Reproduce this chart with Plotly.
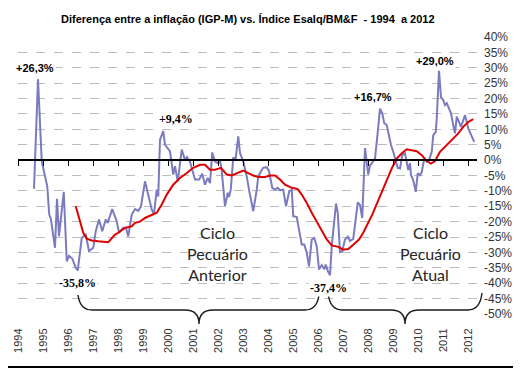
import plotly.graph_objects as go

# ---------------- data ----------------
blue_x = [1994.63, 1994.79, 1994.94, 1995.00, 1995.16, 1995.24, 1995.31, 1995.47, 1995.55, 1995.63,
          1995.82, 1995.94, 1996.03, 1996.16, 1996.30, 1996.38, 1996.54, 1996.70, 1996.83, 1997.00,
          1997.10, 1997.23, 1997.36, 1997.50, 1997.58, 1997.76, 1997.94, 1998.03, 1998.20, 1998.31,
          1998.40, 1998.54, 1998.67, 1998.80, 1998.91, 1999.07, 1999.20, 1999.34, 1999.43, 1999.54,
          1999.60, 1999.67, 1999.80, 1999.87, 2000.07, 2000.20, 2000.27, 2000.38, 2000.54, 2000.67,
          2000.75, 2000.87, 2000.96, 2001.07, 2001.24, 2001.36, 2001.47, 2001.58, 2001.67, 2001.76,
          2001.87, 2001.98, 2002.07, 2002.14, 2002.27, 2002.38, 2002.43, 2002.50, 2002.60, 2002.70,
          2002.80, 2002.87, 2003.00, 2003.14, 2003.23, 2003.40, 2003.54, 2003.60, 2003.71, 2003.80,
          2003.94, 2004.03, 2004.16, 2004.27, 2004.38, 2004.47, 2004.60, 2004.71, 2004.84, 2004.94,
          2005.00, 2005.14, 2005.23, 2005.34, 2005.44, 2005.54, 2005.63, 2005.74, 2005.84, 2005.94,
          2006.03, 2006.14, 2006.24, 2006.30, 2006.38, 2006.47, 2006.54, 2006.64, 2006.71, 2006.78,
          2006.87, 2006.96, 2007.07, 2007.18, 2007.27, 2007.40, 2007.47, 2007.58, 2007.67, 2007.76,
          2007.87, 2007.94, 2008.00, 2008.07, 2008.20, 2008.27, 2008.38, 2008.47, 2008.56, 2008.64,
          2008.74, 2008.83, 2008.91, 2009.00, 2009.10, 2009.18, 2009.27, 2009.36, 2009.47, 2009.54,
          2009.60, 2009.67, 2009.71, 2009.80, 2009.90, 2009.98, 2010.07, 2010.14, 2010.24, 2010.34,
          2010.43, 2010.54, 2010.60, 2010.70, 2010.74, 2010.83, 2010.91, 2011.00, 2011.07, 2011.14,
          2011.20, 2011.31, 2011.40, 2011.47, 2011.54, 2011.63, 2011.71, 2011.78, 2011.87, 2011.94,
          2012.00, 2012.11, 2012.24]
blue_y = [-9.3, 26.3, -0.4, -2.5, -8.5, -17.7, -19.3, -28.5, -12.6, -24.7,
          -10.3, -32.9, -31.1, -32.0, -35.0, -35.8, -25.3, -24.2, -29.6, -28.5,
          -23.1, -19.3, -23.1, -19.3, -20.4, -15.9, -19.9, -23.6, -22.0, -22.0,
          -24.8, -17.7, -15.9, -16.5, -15.0, -6.9, -11.8, -16.1, -17.5, -9.6,
          -11.8, 6.6, 9.4, 5.0, 2.8, -4.7, -2.0, -6.9, 3.4, 0.0,
          1.0, -0.5, -3.1, -6.3, -6.3, -4.4, -8.0, -5.8, -7.5, 2.5,
          -0.5, -1.0, 0.0, -3.6, -15.0, -10.6, -12.0, -9.6, 0.7, 0.7,
          7.7, 2.3, -0.4, -5.3, -9.6, -16.6, -9.6, -5.3, -3.6, -2.5,
          -2.3, -3.6, -9.0, -9.6, -9.0, -9.8, -9.6, -15.0, -10.1, -9.6,
          -18.2, -18.5, -22.6, -27.4, -27.4, -30.1, -34.5, -25.8, -25.3, -28.0,
          -35.5, -34.1, -35.5, -33.9, -36.0, -37.4, -28.0, -20.9, -14.1, -17.1,
          -29.9, -29.6, -25.8, -24.9, -26.3, -25.6, -20.4, -13.7, -14.6, -18.8,
          3.9, -2.0, -4.7, -1.8, -0.4, 0.5, 9.2, 16.7, 15.2, 12.0,
          11.4, 7.6, 4.9, 2.7, 0.0, -2.5, -2.7, 1.6, 2.2, -0.7,
          -3.2, -1.0, -4.9, -6.5, -10.3, -4.3, -4.9, -3.9, 0.5, -0.5,
          0.0, 2.7, 8.1, 9.2, 13.5, 29.0, 20.5, 19.5, 17.9, 18.5,
          17.3, 15.2, 11.4, 8.7, 14.1, 12.0, 10.8, 12.5, 14.6, 12.5,
          10.3, 8.3, 5.9]

red_x = [1996.30, 1996.47, 1996.60, 1996.74, 1996.94, 1997.20, 1997.47, 1997.60, 1997.87, 1998.00,
         1998.27, 1998.54, 1998.67, 1998.87, 1999.07, 1999.34, 1999.54, 1999.74, 1999.94, 2000.20,
         2000.47, 2000.74, 2001.00, 2001.27, 2001.47, 2001.67, 2001.87, 2002.11, 2002.34, 2002.54,
         2002.74, 2003.00, 2003.20, 2003.40, 2003.60, 2003.87, 2004.07, 2004.27, 2004.47, 2004.67,
         2004.94, 2005.18, 2005.34, 2005.54, 2005.74, 2005.94, 2006.14, 2006.34, 2006.54, 2006.80,
         2007.00, 2007.20, 2007.40, 2007.63, 2007.80, 2008.00, 2008.16, 2008.38, 2008.54, 2008.74,
         2008.94, 2009.14, 2009.34, 2009.54, 2009.74, 2009.94, 2010.14, 2010.34, 2010.51, 2010.67,
         2010.87, 2011.14, 2011.40, 2011.60, 2011.80, 2012.00, 2012.20]
red_y = [-15.0, -19.9, -23.6, -25.5, -26.1, -26.4, -26.7, -26.7, -24.2, -23.6,
         -22.0, -21.5, -20.4, -20.0, -18.8, -17.7, -17.1, -14.4, -11.2, -8.0,
         -5.8, -4.2, -2.5, -1.5, -1.5, -3.1, -3.1, -2.5, -4.7, -5.0,
         -4.2, -3.4, -4.2, -5.0, -5.5, -5.5, -5.0, -5.0, -6.3, -8.0,
         -9.0, -9.4, -11.2, -13.9, -17.1, -19.9, -23.1, -25.8, -27.7, -28.2,
         -29.1, -28.9, -27.5, -25.8, -23.6, -20.4, -17.7, -13.5, -10.3, -6.5,
         -2.7, 0.5, 2.2, 3.5, 3.2, 2.9, 1.6, -0.3, -1.1, -0.3,
         2.7, 4.9, 7.1, 8.7, 10.8, 12.4, 13.3]

year_ticks = list(range(1994, 2013))
year_labels = [str(y) for y in year_ticks]
pct_ticks = list(range(-50, 45, 5))
pct_labels = [f"{v}%" for v in pct_ticks]

# peak/trough labels
peak_x = [1994.67, 2000.31, 2008.19, 2010.67, 1996.35, 2006.39]
peak_y = [30.0, 13.3, 20.5, 32.1, -39.9, -41.6]
peak_text = ["+26,3%", "+9,4%", "+16,7%", "+29,0%", "-35,8%", "-37,4%"]

cycle_x = [2001.97, 2010.47]
cycle_y = [-30.5, -30.5]
cycle_text = ["Ciclo<br>Pecuário<br>Anterior", "Ciclo<br>Pecuário<br>Atual"]

title_text = "Diferença entre a inflação (IGP-M) vs. Índice Esalq/BM&F  - 1994  a 2012"

# ---------------- figure ----------------
# the page body has an 8px margin, so the figure is 8px smaller than the window
OFF = 8
WIN_W, WIN_H = 521, 368
W, H = WIN_W - OFF, WIN_H - OFF
PL, PR, PT, PB = 18, 477, 37, 314      # plot area in window pixels
L, R, T, B = PL - OFF, WIN_W - PR, PT - OFF, WIN_H - PB
XR = [1993.99, 2012.35]

fig = go.Figure()
fig.add_trace(go.Scatter(x=blue_x, y=blue_y, mode="lines",
                         line=dict(color="#7b7bbf", width=2), xaxis="x", yaxis="y",
                         showlegend=False, hoverinfo="skip"))
fig.add_trace(go.Scatter(x=red_x, y=red_y, mode="lines",
                         line=dict(color="#e00000", width=2), xaxis="x2", yaxis="y",
                         showlegend=False, hoverinfo="skip"))

pw = PR - PL
ph = PB - PT


def px(X):
    return (X - PL) / pw


def py(Y):
    return (PB - Y) / ph


def brace(x0, xm, x1, ytop, ymid, ytip, r):
    pts = [
        ("M", [(x0, ytop)]),
        ("Q", [(x0 + 2, ymid), (x0 + r, ymid)]),
        ("L", [(xm - r, ymid)]),
        ("Q", [(xm, ymid), (xm, ytip)]),
        ("Q", [(xm, ymid), (xm + r, ymid)]),
        ("L", [(x1 - r, ymid)]),
        ("Q", [(x1 - 2, ymid), (x1, ytop)]),
    ]
    s = ""
    for cmd, ps in pts:
        s += cmd + " " + " ".join(f"{px(a):.5f},{py(b):.5f}" for a, b in ps) + " "
    return s.strip()


shapes = [
    dict(type="path", xref="paper", yref="paper",
         path=brace(78, 199, 319, 295, 310, 324, 14),
         line=dict(color="#1a1a1a", width=1.4)),
    dict(type="path", xref="paper", yref="paper",
         path=brace(328, 405, 482, 293, 310, 324, 14),
         line=dict(color="#1a1a1a", width=1.4)),
    # frame (bottom and right edges of the picture)
    dict(type="line", xref="paper", yref="paper", x0=px(OFF), x1=px(WIN_W), y0=py(WIN_H - 1),
         y1=py(WIN_H - 1), line=dict(color="black", width=2)),
    dict(type="line", xref="paper", yref="paper", x0=px(WIN_W - 1), x1=px(WIN_W - 1),
         y0=py(OFF), y1=py(WIN_H), line=dict(color="black", width=2)),
]

annotations = []
for ax, ay, tx in zip(peak_x, peak_y, peak_text):
    serif = tx in ("+9,4%", "-35,8%", "-37,4%")
    annotations.append(dict(x=ax, y=ay, xref="x", yref="y", text=tx, showarrow=False,
                            font=dict(family="Liberation Serif" if serif else "Liberation Sans",
                                      size=12 if serif else 11, color="black", weight="bold"),
                            bgcolor="white", borderpad=1))

for cx, cy, tx in zip(cycle_x, cycle_y, cycle_text):
    annotations.append(dict(x=cx, y=cy, xref="x", yref="y", text=tx, showarrow=False,
                            font=dict(family="Lato", size=16, color="#262626")))

annotations.append(dict(x=0.5, y=py(19), xref="paper", yref="paper", yanchor="middle",
                        text=title_text, showarrow=False,
                        font=dict(family="Liberation Sans", size=11, color="black", weight="bold")))

fig.update_layout(
    width=W, height=H,
    margin=dict(l=L, r=R, t=T, b=B),
    paper_bgcolor="white", plot_bgcolor="white",
    showlegend=False,
    xaxis=dict(range=XR, tickmode="array", tickvals=year_ticks, ticktext=year_labels,
               tickangle=-90, showgrid=False, zeroline=False, showline=False,
               ticks="outside", ticklen=9, tickcolor="rgba(0,0,0,0)", automargin=False,
               tickfont=dict(family="Liberation Sans", size=11, color="#333333")),
    xaxis2=dict(range=XR, overlaying="x", anchor="free", position=50 / 90, side="bottom",
                tickmode="array", tickvals=year_ticks, showticklabels=False,
                showgrid=False, zeroline=False, showline=True, linecolor="black", linewidth=1.5,
                ticks="outside", ticklen=5, tickcolor="black", tickwidth=1),
    yaxis=dict(range=[-50, 40], side="right", tickmode="array", tickvals=pct_ticks,
               ticktext=pct_labels, showgrid=True, gridcolor="#bdbdbd", griddash="dash",
               gridwidth=1, zeroline=False, showline=False, ticks="", automargin=False,
               ticklabelstandoff=6,
               tickfont=dict(family="Liberation Sans", size=12, color="#333333")),
    shapes=shapes,
    annotations=annotations,
)

fig.write_html("out.html")
